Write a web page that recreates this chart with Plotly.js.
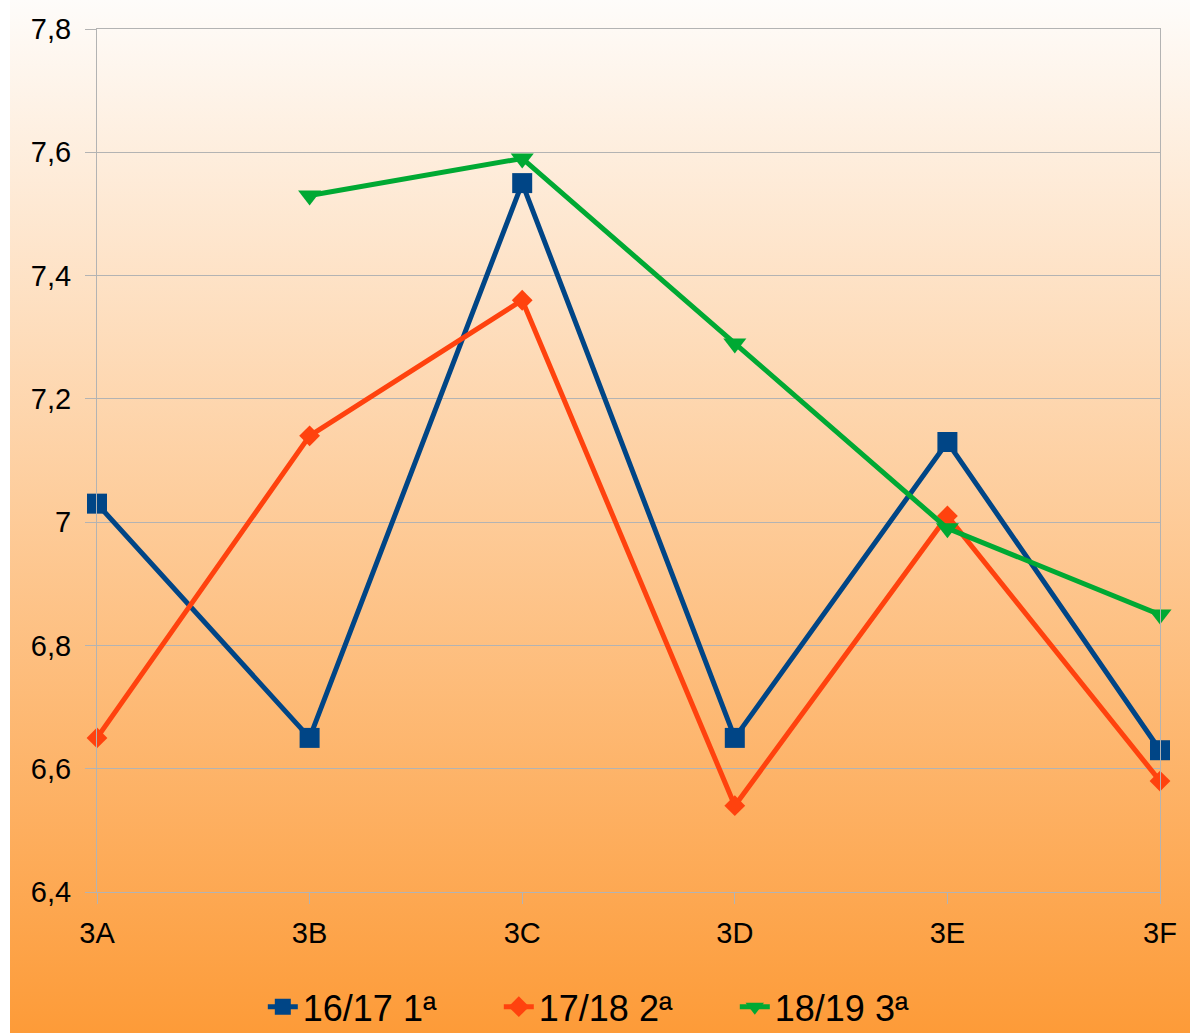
<!DOCTYPE html>
<html>
<head>
<meta charset="utf-8">
<script src="https://cdn.plot.ly/plotly-3.0.1.min.js"></script>
<style>
html,body{margin:0;padding:0;background:#ffffff;}
#wrap{position:relative;width:1190px;height:1033px;background:#ffffff;}
#bg{position:absolute;left:10px;top:0;width:1180px;height:1033px;background:linear-gradient(to bottom,#fefcfa 0%,#fd9b38 100%);}
#chart{position:absolute;left:0;top:0;width:1190px;height:1033px;}
</style>
</head>
<body>
<div id="wrap"><div id="bg"></div><div id="chart"></div></div>
<script>
const categories = ['3A','3B','3C','3D','3E','3F'];
const seriesNames = ['16/17 1ª','17/18 2ª','18/19 3ª'];
const values1617 = [7.03, 6.65, 7.55, 6.65, 7.13, 6.63];
const values1718 = [6.65, 7.14, 7.36, 6.54, 7.01, 6.58];
const values1819 = [null, 7.53, 7.59, 7.29, 6.99, 6.85];
const yTickVals = [6.4, 6.6, 6.8, 7, 7.2, 7.4, 7.6, 7.8];

const colors = ['#004586', '#ff420e', '#00a933'];
const symbols = ['square', 'diamond', 'triangle-down'];
const sizes = [20, 16, 20];
const allValues = [values1617, values1718, values1819];

const traces = allValues.map((v, i) => ({
  type: 'scatter',
  mode: 'lines+markers',
  name: seriesNames[i],
  x: categories,
  y: v,
  cliponaxis: false,
  line: {color: colors[i], width: 5},
  marker: {color: colors[i], symbol: symbols[i], size: sizes[i], line: {width: 0}},
  connectgaps: false
}));

const layout = {
  width: 1190,
  height: 1033,
  paper_bgcolor: 'rgba(0,0,0,0)',
  plot_bgcolor: 'rgba(0,0,0,0)',
  separators: ',.',
  font: {family: 'Liberation Sans, Arial, sans-serif', color: '#000000', size: 29},
  margin: {l: 97, r: 30, t: 29, b: 141, pad: 0, autoexpand: false},
  showlegend: true,
  legend: {
    orientation: 'h',
    x: 0.489, xanchor: 'center',
    y: -0.133, yanchor: 'middle',
    font: {size: 36, color: '#000000'},
    bgcolor: 'rgba(0,0,0,0)',
    entrywidth: 191,
    tracegroupgap: 0
  },
  xaxis: {
    type: 'category',
    range: [0, 5],
    showgrid: false,
    zeroline: false,
    showline: true,
    mirror: true,
    linecolor: '#b3b3b3',
    linewidth: 1,
    ticks: 'outside',
    ticklen: 11,
    tickwidth: 1,
    tickcolor: '#b3b3b3',
    tickfont: {size: 29},
    ticklabelstandoff: 4,
    fixedrange: true
  },
  yaxis: {
    range: [6.4, 7.8],
    tickvals: yTickVals,
    showgrid: true,
    gridcolor: '#b3b3b3',
    gridwidth: 1,
    zeroline: false,
    showline: true,
    mirror: true,
    linecolor: '#b3b3b3',
    linewidth: 1,
    ticks: 'outside',
    ticklen: 11,
    tickcolor: '#b3b3b3',
    tickfont: {size: 29},
    ticklabelstandoff: 8,
    fixedrange: true
  }
};

Plotly.newPlot('chart', traces, layout, {displayModeBar: false, staticPlot: true});
</script>
</body>
</html>
